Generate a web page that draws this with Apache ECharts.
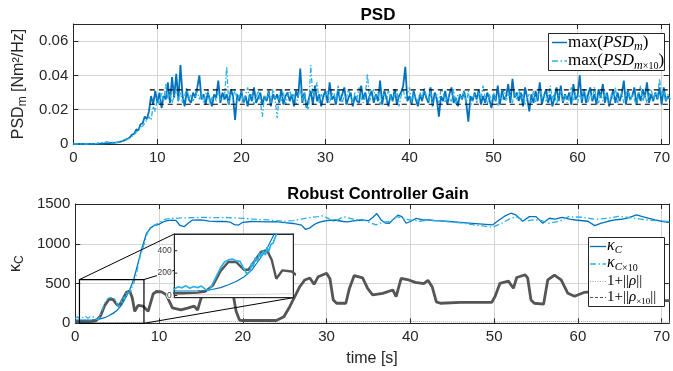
<!DOCTYPE html>
<html>
<head>
<meta charset="utf-8">
<script src="https://cdn.jsdelivr.net/npm/echarts@6/dist/echarts.min.js"></script>
<style>
  html, body { margin: 0; padding: 0; background: #fff; }
  #chart { width: 673px; height: 371px; }
</style>
</head>
<body>
<div id="chart"></div>
<script>
// ---------- data ----------
const xTickLabels = [0, 10, 20, 30, 40, 50, 60, 70];
const psdTickLabels = [0, 0.02, 0.04, 0.06];
const gainTickLabels = [0, 500, 1000, 1500];
const insetTickLabels = [0, 200, 400];

// PSD traces are sampled every 0.25 s from t = 0, values in 1e-3 Nm^2/Hz
const psdStart = 0;
const psdStep = 0.25;
const psdM = [
  0, 0, 0, 0,  0, 0, 0, 0,  0, 0, 0, 0.1,
  0.1, 0.2, 0.2, 0.3,  0.4, 0.5, 0.6, 0.7,  0.8, 1, 1.3, 1.6,
  2, 2.6, 3.2, 4,  5.5, 6, 8.5, 8,  11.5, 12, 16, 14.5,
  19, 28, 23, 31,  24, 30, 21, 28,  26, 36, 24, 39,  27, 41, 25, 46,
  28, 22, 31, 26,  24, 30, 27, 33,  40, 26, 29, 23,  30, 26, 22, 29,
  27, 37, 24, 30,  26, 29, 23, 32,  28, 14, 29, 25,  31, 24, 28, 22,
  29, 25, 33, 24,  27, 30, 23, 28,  25, 31, 22, 29,  26, 29, 24, 32,
  23, 28, 30, 25,  29, 22, 31, 27,  44, 24, 30, 21,  26, 31, 23, 34,
  25, 29, 22, 28,  31, 24, 36, 26,  28, 23, 32, 25,  29, 33, 23, 27,
  30, 22, 28, 25,  24, 34, 26, 30,  23, 28, 31, 24,  29, 25, 37, 23,
  31, 27, 22, 29,  25, 32, 23, 28,  30, 34, 45, 25,  28, 23, 31, 26,
  22, 29, 25, 31,  27, 24, 33, 22,  30, 26, 16, 28,  25, 31, 23, 29,
  33, 24, 27, 22,  29, 26, 31, 24,  13, 28, 25, 30,  26, 32, 23, 28,
  24, 30, 26, 21,  29, 25, 34, 23,  31, 26, 28, 35,  24, 38, 27, 30,
  25, 30, 22, 33,  27, 19, 29, 24,  31, 25, 36, 23,  28, 32, 24, 29,
  22, 27, 33, 25,  34, 24, 29, 26,  30, 23, 35, 26,  28, 40, 24, 32,
  24, 29, 33, 25,  29, 23, 32, 27,  35, 24, 30, 22,  27, 32, 24, 30,
  25, 29, 37, 23,  31, 26, 28, 33,  23, 30, 25, 32,  27, 36, 24, 29,
  25, 30, 26, 33,  23, 33, 25, 28,  26
];
const psdM10 = [
  0, 0, 0, 0,  0, 0, 0, 0,  0, 0.1, 0.2, 0.3,
  0.6, 0.8, 1, 1.1,  1.2, 1.1, 1, 0.9,  0.9, 1, 1.2, 1.5,
  1.9, 2.3, 2.9, 3.6,  4.5, 5.5, 7, 8,  9.5, 10.5, 12, 14,
  16, 14, 22, 19,  27, 23, 30, 25,  35, 26, 29, 24,  28, 32, 25, 30,
  24, 28, 33, 26,  29, 25, 28, 31,  26, 30, 24, 29,  32, 23, 27, 29,
  25, 31, 26, 25,  28, 45, 23, 29,  27, 32, 25, 28,  30, 24, 29, 33,
  25, 29, 23, 27,  31, 25, 16, 28,  26, 30, 24, 32,  27, 15, 29, 25,
  30, 23, 28, 32,  26, 29, 23, 28,  32, 25, 30, 22,  20, 46, 27, 31,
  36, 24, 29, 26,  28, 31, 24, 29,  30, 25, 34, 27,  24, 29, 27, 32,
  28, 24, 30, 26,  33, 27, 24, 29,  41, 25, 29, 32,  26, 30, 23, 28,
  29, 24, 32, 27,  25, 29, 31, 22,  28, 32, 26, 29,  33, 24, 29, 27,
  25, 30, 27, 33,  28, 25, 31, 23,  27, 29, 24, 32,  30, 24, 28, 26,
  25, 32, 23, 29,  28, 26, 31, 24,  31, 22, 27, 29,  24, 30, 26, 34,
  27, 23, 29, 25,  30, 26, 22, 28,  26, 32, 25, 29,  28, 24, 30, 26,
  32, 26, 29, 23,  27, 29, 24, 31,  24, 28, 32, 26,  29, 25, 27, 34,
  26, 30, 23, 28,  31, 25, 29, 24,  27, 33, 25, 29,  24, 29, 26, 32,
  28, 24, 30, 26,  33, 26, 24, 29,  25, 31, 27, 23,  29, 26, 33, 24,
  27, 30, 24, 29,  32, 25, 29, 26,  23, 29, 34, 25,  29, 24, 28, 32,
  26, 30, 27, 38,  28, 31, 25, 29,  27
];
// dashed reference band of the PSD plot
const psdBand = [0.0232, 0.0316];
const psdBandStart = 9.1;

// controller gain traces as [time s, value]
const kappaC = [
  [0, 40], [1, 40], [2, 42], [2.5, 45], [3, 55], [3.5, 70], [4, 95], [4.5, 125], [5, 165], [5.5, 225],
  [6, 320], [6.5, 420], [7, 560], [7.5, 760], [8, 960], [8.5, 1130], [9, 1200], [9.5, 1232], [10, 1245],
  [10.5, 1275], [11, 1290], [11.5, 1298], [12, 1295], [12.5, 1230], [13, 1215], [13.5, 1260], [14, 1298],
  [15, 1300], [16, 1285], [17, 1280], [18, 1282], [18.5, 1270], [19, 1240], [19.5, 1235], [20, 1270],
  [21, 1280], [22, 1278], [23, 1275], [24, 1278], [25, 1265], [26, 1255], [27, 1235], [27.5, 1180],
  [28, 1200], [28.5, 1240], [29, 1265], [29.5, 1280], [30, 1290], [31, 1299], [32, 1280], [32.5, 1275],
  [33, 1285], [34, 1299], [35, 1290], [35.5, 1330], [36, 1380], [36.5, 1300], [37, 1260], [37.5, 1258],
  [38, 1310], [38.5, 1360], [39, 1340], [39.5, 1258], [40, 1280], [40.7, 1320], [41.5, 1300], [42.3, 1299],
  [43, 1290], [44.3, 1283], [46.3, 1266], [48.2, 1250], [49.8, 1237], [50.6, 1299], [51.3, 1350],
  [52, 1384], [52.6, 1362], [53.4, 1283], [54.2, 1341], [55, 1341], [55.8, 1258], [56.6, 1321],
  [57.3, 1310], [58.1, 1333], [59, 1310], [59.7, 1299], [61.2, 1283], [62, 1228], [62.8, 1260],
  [63.6, 1283], [64.4, 1300], [65.2, 1308], [66, 1325], [67, 1362], [67.7, 1340], [68.4, 1321],
  [69.2, 1300], [70, 1283], [71, 1266]
];
const kappaC10 = [
  [0, 62], [0.25, 82], [0.5, 58], [0.75, 78], [1, 68], [1.25, 86], [1.5, 64], [1.75, 80], [2, 70],
  [2.25, 84], [2.5, 56], [2.75, 44], [3, 110], [3.25, 180], [3.5, 250], [3.75, 300], [4, 318],
  [4.25, 325], [4.5, 310], [4.75, 305], [5, 240], [5.2, 192], [5.4, 215], [5.5, 290], [5.6, 255],
  [5.75, 340], [5.9, 300], [6, 382], [6.1, 345], [6.25, 398], [6.4, 362], [6.5, 432], [6.6, 392],
  [6.75, 455], [6.9, 470], [7, 510], [7.25, 600], [7.5, 720], [7.75, 850], [8, 925], [8.25, 1005],
  [8.5, 1100], [8.75, 1170], [9, 1212], [9.5, 1238], [10, 1262], [10.5, 1302], [11, 1312], [11.5, 1322],
  [12, 1320], [13, 1326], [14, 1328], [15, 1331], [16, 1330], [17, 1328], [18, 1330], [19, 1325],
  [20, 1320], [21, 1312], [22, 1305], [23, 1300], [24, 1290], [25, 1285], [26, 1290], [27, 1310],
  [28, 1330], [29, 1340], [29.6, 1352], [30.5, 1300], [30.8, 1285], [31.5, 1310], [32, 1340],
  [32.8, 1320], [33.6, 1299], [34.3, 1305], [35.1, 1270], [35.9, 1237], [36.7, 1270], [37.6, 1283],
  [38.4, 1341], [39.1, 1320], [39.9, 1299], [40.7, 1290], [41.1, 1283], [42.2, 1295], [43.9, 1283],
  [46, 1262], [48.6, 1224], [49.8, 1207], [50.9, 1258], [51.8, 1310], [52.6, 1341], [53.8, 1283],
  [54.6, 1299], [55.4, 1299], [56.6, 1258], [57.8, 1283], [58.9, 1341], [60.5, 1333], [62, 1308],
  [63.6, 1321], [64.8, 1345], [66, 1333], [67.6, 1308], [69.2, 1291], [70.4, 1283], [71, 1280]
];
const rho10 = [
  [0, 20], [1, 20], [2, 25], [2.5, 35], [3, 90], [3.5, 220], [4, 300], [4.5, 300], [5, 230], [5.3, 230],
  [5.8, 330], [6.1, 390], [6.5, 405], [6.8, 320], [7.1, 150], [7.5, 225], [8.1, 215], [8.7, 150],
  [9.3, 370], [9.7, 400], [10.3, 395], [10.85, 360], [11.6, 195], [12.6, 170], [13.4, 190], [14.2, 215],
  [14.6, 165], [15, 310], [15.5, 420], [16, 520], [17, 560], [18, 540], [18.7, 450], [19.2, 150],
  [19.6, 40], [20, 35], [22, 35], [24, 35], [24.9, 83], [25.6, 209], [26.8, 460], [27.4, 545],
  [28, 570], [28.5, 490], [29, 586], [30, 629], [30.4, 560], [30.8, 293], [31.2, 252], [32.3, 252],
  [32.7, 430], [33.3, 600], [34.3, 570], [34.9, 440], [35.5, 356], [36.7, 377], [37.9, 419], [38.3, 335],
  [38.9, 566], [39.8, 545], [40.6, 515], [41.6, 500], [42.1, 540], [42.6, 460], [43.1, 270], [43.6, 252],
  [46, 262], [49.7, 262], [50.1, 335], [50.7, 503], [51.7, 530], [52.3, 440], [52.7, 576], [53.7, 610],
  [54, 570], [54.4, 293], [54.8, 252], [55.9, 240], [56.4, 545], [57.2, 607], [58, 545], [58.8, 377],
  [59.6, 340], [60.8, 390], [62, 400], [63, 420], [65, 380], [67, 330], [68, 300], [70, 285], [71, 284]
];
const rho = [
  [0, 5], [5, 8], [8, 15], [12, 20], [16, 25], [20, 20], [24, 12], [28, 15], [32, 18], [36, 22],
  [40, 25], [44, 18], [48, 14], [52, 18], [56, 22], [60, 24], [64, 20], [68, 16], [71, 15]
];

// zoomed window shown in the inset, and the inset's own value range
const zoomTime = [0.5, 8.2];
const zoomGain = [0, 550];
const insetGain = [-20, 550];

// ---------- styling helpers ----------
const SANS = 'Liberation Sans';
const SERIF = 'Liberation Serif';
const AX = '#262626';
const GRIDC = '#d4d4d4';
const BLUE = '#0072BD';
const CYAN = '#2BB0E6';
const GRAY = '#555555';
const LGRAY = '#a8a8a8';
const XMAX = 70.85;

function pick(list) {
  return function (v) {
    const m = list.find(t => Math.abs(t - v) < 1e-9);
    return m === undefined ? '' : String(m);
  };
}

const gridLine = { show: true, lineStyle: { color: GRIDC, width: 1, type: 'solid', opacity: 1 } };

function mainX(grid, name) {
  return {
    type: 'value', gridIndex: grid, min: 0, max: XMAX, interval: 10, position: 'bottom',
    axisLine: { show: true, onZero: false, lineStyle: { color: AX, width: 1 } },
    axisTick: { show: true, inside: true, length: 5, lineStyle: { color: AX } },
    axisLabel: { show: true, margin: 6, fontSize: 15, fontFamily: SANS, color: AX, formatter: pick(xTickLabels) },
    splitLine: gridLine,
    name: name || '', nameLocation: 'middle', nameGap: 27,
    nameTextStyle: { fontSize: 16, fontFamily: SANS, color: AX }
  };
}
function boxX(grid, min, max, tick) {
  const o = {
    type: 'value', gridIndex: grid, min, max, position: 'top',
    axisLine: { show: true, onZero: false, lineStyle: { color: AX, width: 1 } },
    axisTick: { show: !!tick, inside: true, length: 5, lineStyle: { color: AX } },
    axisLabel: { show: false }, splitLine: { show: false }
  };
  if (tick) o.interval = 10;
  return o;
}
function boxY(grid, min, max, interval) {
  const o = {
    type: 'value', gridIndex: grid, min, max, position: 'right',
    axisLine: { show: true, onZero: false, lineStyle: { color: AX, width: 1 } },
    axisTick: { show: !!interval, inside: true, length: 5, lineStyle: { color: AX } },
    axisLabel: { show: false }, splitLine: { show: false }
  };
  if (interval) o.interval = interval;
  return o;
}

function line(name, data, xi, yi, color, width, type, z) {
  return {
    name, type: 'line', xAxisIndex: xi, yAxisIndex: yi, data,
    symbol: 'none', showSymbol: false, clip: true, z: z || 2,
    lineStyle: { color, width, type: type || 'solid' },
    emphasis: { disabled: true }, silent: true
  };
}

const dashDot = [6, 2.5, 1.5, 2.5];
const psdDark = psdM.map((v, i) => [psdStart + i * psdStep, v / 1000]);
const psdLight = psdM10.map((v, i) => [psdStart + i * psdStep, v / 1000]);

const series = [
  line('psdM', psdDark, 0, 0, BLUE, 1.8),
  line('psdM10', psdLight, 0, 0, CYAN, 1.3, [5, 2, 1.5, 2]),
  ...psdBand.map((lvl, k) => line('band' + k, [[psdBandStart, lvl], [XMAX + 1, lvl]], 0, 0, '#000', 1.2, [5, 4])),
  line('rho', rho, 2, 2, LGRAY, 1, 'dotted'),
  line('rho10', rho10, 2, 2, GRAY, 2.8),
  line('kappaC', kappaC, 2, 2, BLUE, 1.3),
  line('kappaC10', kappaC10, 2, 2, CYAN, 1.3, dashDot),
  // inset copies
  line('rho_in', rho, 4, 4, LGRAY, 1, 'dotted', 60),
  line('rho10_in', rho10, 4, 4, GRAY, 2.4, 'solid', 60),
  line('kappaC_in', kappaC, 4, 4, BLUE, 1.1, 'solid', 60),
  line('kappaC10_in', kappaC10, 4, 4, CYAN, 1.7, 'solid', 60)
];

const insetGrid = { left: 174.3, top: 234, width: 119, height: 63.7 };

const nameRich = {
  a: { fontSize: 16, fontFamily: SANS, color: AX, lineHeight: 20 },
  s: { fontSize: 12, fontFamily: SANS, color: AX, lineHeight: 10, verticalAlign: 'bottom' }
};

const option = {
  animation: false,
  backgroundColor: '#fff',
  title: [
    { text: 'PSD', left: 373, top: 2, textAlign: 'center',
      textStyle: { fontSize: 17, fontWeight: 'bold', fontFamily: SANS, color: '#000' } },
    { text: 'Robust Controller Gain', left: 373, top: 181, textAlign: 'center',
      textStyle: { fontSize: 16.5, fontWeight: 'bold', fontFamily: SANS, color: '#000' } }
  ],
  grid: [
    { left: 73.3, top: 24, width: 598.7, height: 120, containLabel: false },
    { left: 73.3, top: 204, width: 598.7, height: 119.3, containLabel: false },
    { left: insetGrid.left, top: insetGrid.top, width: insetGrid.width, height: insetGrid.height,
      show: true, backgroundColor: '#fff', borderWidth: 0, z: 50 }
  ],
  xAxis: [
    mainX(0),
    boxX(0, 0, XMAX, true),
    mainX(1, 'time [s]'),
    boxX(1, 0, XMAX, true),
    { type: 'value', gridIndex: 2, min: zoomTime[0], max: zoomTime[1], position: 'bottom', z: 55,
      axisLine: { show: true, onZero: false, lineStyle: { color: AX, width: 1 } },
      axisTick: { show: false }, axisLabel: { show: false }, splitLine: { show: false } },
    Object.assign(boxX(2, zoomTime[0], zoomTime[1], false), { z: 55 })
  ],
  yAxis: [
    { type: 'value', gridIndex: 0, min: 0, max: 0.07, interval: 0.02, position: 'left',
      axisLine: { show: true, onZero: false, lineStyle: { color: AX, width: 1 } },
      axisTick: { show: true, inside: true, length: 5, lineStyle: { color: AX } },
      axisLabel: { margin: 5, fontSize: 15, fontFamily: SANS, color: AX, formatter: pick(psdTickLabels) },
      splitLine: gridLine,
      name: '{a|PSD}{s|m}{a| [Nm²/Hz]}', nameLocation: 'middle', nameGap: 37, nameRotate: 90,
      nameTextStyle: { color: AX, rich: nameRich } },
    boxY(0, 0, 0.07, 0.02),
    { type: 'value', gridIndex: 1, min: 0, max: 1500, interval: 500, position: 'left',
      axisLine: { show: true, onZero: false, lineStyle: { color: AX, width: 1 } },
      axisTick: { show: true, inside: true, length: 5, lineStyle: { color: AX } },
      axisLabel: { margin: 5, fontSize: 15, fontFamily: SANS, color: AX, formatter: pick(gainTickLabels) },
      splitLine: gridLine,
      name: '{a|κ}{s|C}', nameLocation: 'middle', nameGap: 38, nameRotate: 90,
      nameTextStyle: { color: AX, rich: nameRich } },
    boxY(1, 0, 1500, 500),
    { type: 'value', gridIndex: 2, min: insetGain[0], max: insetGain[1], position: 'left', z: 55,
      axisLine: { show: true, onZero: false, lineStyle: { color: AX, width: 1 } },
      axisTick: { show: false }, axisLabel: { show: false }, splitLine: { show: false } },
    Object.assign(boxY(2, insetGain[0], insetGain[1], undefined), { z: 55 })
  ],
  series
};

const chart = echarts.init(document.getElementById('chart'), null, { renderer: 'canvas' });
chart.setOption(option);

// ---------- legends and zoom decorations ----------
function mathRich(size) {
  return {
    r: { fontFamily: SERIF, fontSize: size, lineHeight: size + 4, fill: '#000', color: '#000' },
    i: { fontFamily: SERIF, fontSize: size, fontStyle: 'italic', lineHeight: size + 4, fill: '#000', color: '#000' },
    s: { fontFamily: SERIF, fontSize: Math.round(size * 0.68), fontStyle: 'italic', lineHeight: 10,
         verticalAlign: 'bottom', fill: '#000', color: '#000' },
    u: { fontFamily: SERIF, fontSize: Math.round(size * 0.6), lineHeight: 9,
         verticalAlign: 'bottom', fill: '#000', color: '#000' }
  };
}
function lgLine(id, x1, x2, y, color, width, dash) {
  return { type: 'line', id, z: 101, silent: true,
    shape: { x1, y1: y, x2, y2: y },
    style: { stroke: color, lineWidth: width, lineDash: dash || null } };
}
function lgText(id, x, y, text, size) {
  return { type: 'text', id, z: 101, silent: true, x, y,
    style: { text, rich: mathRich(size), fill: '#000', textAlign: 'left', textVerticalAlign: 'middle' } };
}

const legendEls = [
  { type: 'rect', id: 'lgBoxTop', z: 100, silent: true, shape: { x: 548.5, y: 33.5, width: 116, height: 37 },
    style: { fill: '#fff', stroke: AX, lineWidth: 1 } },
  lgLine('lgL1', 552, 567, 42.5, BLUE, 1.5),
  lgLine('lgL2', 552, 567, 61, CYAN, 1.3, dashDot),
  lgText('lgT1', 568, 42.5, '{r|max(}{i|PSD}{s|m}{r|)}', 17),
  lgText('lgT2', 568, 61, '{r|max(}{i|PSD}{s|m}{u|×10}{r|)}', 17),

  { type: 'rect', id: 'lgBoxBot', z: 100, silent: true, shape: { x: 588.5, y: 237.5, width: 76, height: 69 },
    style: { fill: '#fff', stroke: AX, lineWidth: 1 } },
  lgLine('lgB1', 590, 606, 246.5, BLUE, 1.3),
  lgLine('lgB2', 590, 606, 264, CYAN, 1.3, dashDot),
  lgLine('lgB3', 590, 606, 281.5, LGRAY, 1, [1, 1.5]),
  lgLine('lgB4', 590, 606, 297.5, GRAY, 1, [3, 2]),
  lgText('lgBT1', 607, 245.5, '{i|κ}{s|C}', 16),
  lgText('lgBT2', 607, 263, '{i|κ}{s|C}{u|×10}', 16),
  lgText('lgBT3', 607, 281, '{r|1+||}{i|ρ}{r|||}', 15),
  lgText('lgBT4', 607, 297, '{r|1+||}{i|ρ}{u|×10}{r|||}', 15)
];

const mainFinder = { xAxisIndex: 2, yAxisIndex: 2 };
const insetFinder = { xAxisIndex: 4, yAxisIndex: 4 };
const rTL = chart.convertToPixel(mainFinder, [zoomTime[0], zoomGain[1]]);
const rBR = chart.convertToPixel(mainFinder, [zoomTime[1], zoomGain[0]]);
const iTL = chart.convertToPixel(insetFinder, [zoomTime[0], insetGain[1]]);
const iTR = chart.convertToPixel(insetFinder, [zoomTime[1], insetGain[1]]);
const iBR = chart.convertToPixel(insetFinder, [zoomTime[1], insetGain[0]]);

function seg(id, a, b, z, color) {
  return { type: 'line', id, z: z || 40, silent: true,
    shape: { x1: a[0], y1: a[1], x2: b[0], y2: b[1] },
    style: { stroke: color || '#000', lineWidth: 1 } };
}
const zoomEls = [
  { type: 'rect', id: 'zoomRect', z: 40, silent: true,
    shape: { x: rTL[0], y: rTL[1], width: rBR[0] - rTL[0], height: rBR[1] - rTL[1] },
    style: { fill: null, stroke: '#000', lineWidth: 1.2 } },
  seg('cTL', rTL, iTL),
  seg('cTR', [rBR[0], rTL[1]], iTR),
  seg('cBR', rBR, iBR),
  { type: 'rect', id: 'insetBox', z: 58, silent: true,
    shape: { x: iTL[0], y: iTL[1], width: iBR[0] - iTL[0], height: iBR[1] - iTL[1] },
    style: { fill: null, stroke: AX, lineWidth: 1 } }
];

// inset tick marks and labels, placed through the inset's value axis
insetTickLabels.forEach((v, k) => {
  const p = chart.convertToPixel(insetFinder, [zoomTime[0], v]);
  zoomEls.push(seg('iTick' + k, p, [p[0] + 3, p[1]], 70, AX));
  zoomEls.push({ type: 'text', id: 'iLab' + k, z: 72, silent: true, x: p[0] - 2.5, y: p[1],
    style: { text: String(v), fontSize: 8.5, fontFamily: SANS, fill: '#3a3a3a',
             stroke: '#fff', lineWidth: 2,
             textAlign: 'right', textVerticalAlign: 'middle' } });
});

chart.setOption({ graphic: legendEls.concat(zoomEls) });
</script>
</body>
</html>
